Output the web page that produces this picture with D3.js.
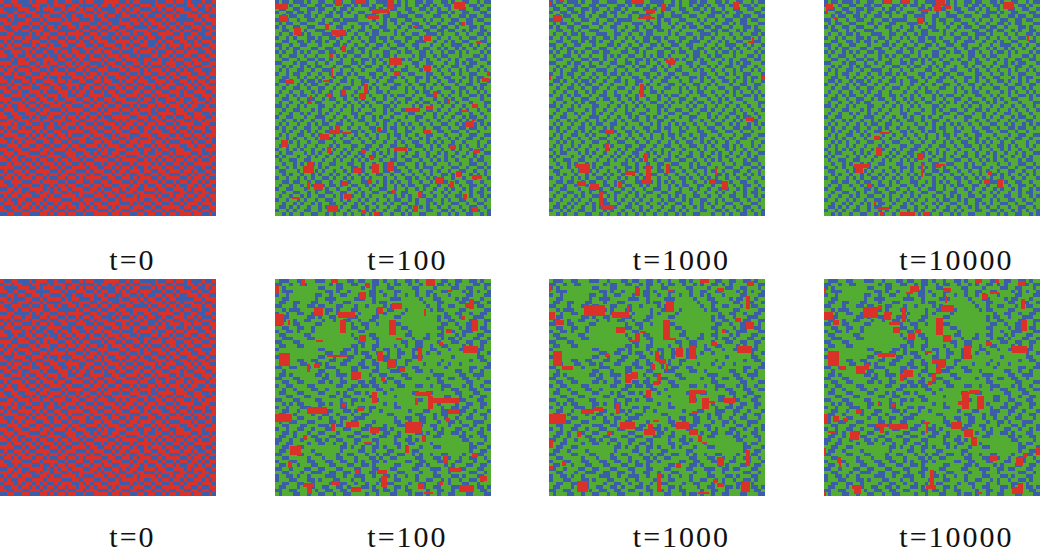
<!DOCTYPE html>
<html><head><meta charset="utf-8">
<script src="https://cdnjs.cloudflare.com/ajax/libs/d3/7.8.5/d3.min.js"></script>
<style>html,body{margin:0;padding:0;background:#fff;overflow:hidden}svg{display:block}</style>
</head><body><svg id="c" width="1040" height="549"></svg>
<script>
// Values are estimates by eye. Texture grids are a coarse 60x60 approximation of a ~100x100 lattice,
// hand typed, not a cell-accurate reading. Red patches are [col,row,w,h] on the 100-cell lattice.
const labels=["t=0","t=100","t=1000","t=10000"];
const categories=["red","blue","green"];
// t=0: 1 = blue, 0 = red
const initialRows=[
"011001110100011011001101001110000110100111101100100101110110",
"100100111001101000110011110100101001011000100011011100101001",
"011110001101000110100101001011110010100111010100100110011010",
"001101100011110001011000110100110101001000111011010001101100",
"110010011001001110110110001001001100110101100100101100010011",
"001011100110100001010011101100111011001010011010011111001000",
"100110001001011110001100011011011000100101000101101000110110",
"011000110110100101100101100100100110011110110010010110001001",
"001101001000110011111010011011001001100001001101001001101100",
"110011110101001100100001100100110100101100110000110110011001",
"000100100110010011011010010011101011010010011011000100101110",
"101011001001101100100101101000110000100101110100110011010001",
"010100111010010110011000110110001101011001101010001001001100",
"100011000101100001110110001001100100100110010011011010110010",
"011000101011011010010011010010011011101000101100100100011001",
"001101100100101101001000101101000100110111001001011001100100",
"111010010011000100110101100010110010001100110110100110010011",
"000110001101010011001010011101001101100101000100011001001100",
"101001110010001100100100100110100010011010111010010100110001",
"010010001001101011011001011000111001000101000101101011001110",
"100101100110010000100110100101000110110100110010010001100100",
"011100011000101101110001001010110001001011001101001100011011",
"001011001011000100101100110010011010010001100010110010100100",
"110100110100110011000011001101000101101100010100011001010011",
"001001000110001001101010010010110010010011011001100100101000",
"100110110001011100010100101101001001100100100110001011000110",
"011000101100100010011001100001100110001011010001101000110001",
"000111010010011011000110010110010001110100101100010110011010",
"101000101101000100110001101001001100001001100101100101000100",
"010110010010110001001110010010110011010110010010001010011011",
"100010001101001110100001100101000100101000101101100100110000",
"011001100010010001011010011010011011000110110000100011001101",
"001100110101100110100100100101100000110001001011011001000110",
"110010001001001000110011001000110101001101100100100110101000",
"000101100110110101000100110110001010010010010011010000110011",
"101001011000100110011010001001100100101100101100101101000100",
"010110000101011001100001100110010011000101000110010010110110",
"100001101010100100101110010001101000111000110001101001001000",
"011100010100011010010000101100100110100110011010000110100101",
"001010100011001001101100110010011001001000100101110001011001",
"110001001100110110010011000101000110010011010010001100100110",
"001100110001001000101000111010110001101100101001100110001000",
"100010001110010111000110010100100110000101100110100001101101",
"010101100001100001100101001011001001110010001001011010010010",
"001001011010011010010010110000110100001101010100100100101100",
"110100100101000101001101001101001011010000101011001011000001",
"000011010010110010110000100110010100101101000100110100110110",
"101100101100001101000111010001101001000100110010001001011001",
"010010010011010010011000101100010010110011001001110010100100",
"100101000100101100100101000011001100101000110100001101001011",
"011000111001000011011001101100100011010010001011010010010100",
"001101000110110100100110010010011000100101100100101100101001",
"110010110000101010010001100101100101001100010011000101000110",
"000100101101001001101100001010010110010011101000110011010011",
"101001000110010110000101110001001001101000010110100100100100",
"010110011000100001110010001100110100001011001001001011001010",
"100010100101011010001101010011000111010100100110110100010001",
"011001001010100100100100101000101000100011011000001001101100",
"001100110001001011011001000111010011001100100101100110010010",
"110011001110010100100110110000100100110010011010010001001101"
];
// top row t>=100: 1 = blue, 0 = green
const sparseRows=[
"101101110100110011100110010011110010100110110011010011001011",
"110010011001101100011010110100100110100101101001101100110100",
"011001100110110010110100001101001100110011010100100110011001",
"100110110100100101101001100110010010011000100111010011000110",
"001011001101001100100010011100110011100110001100100110110011",
"110100100110010011011110000100101100110001010010011001101100",
"010110011000110100110001110010100101001100100100110101100011",
"101001100110001001100100101001100010010110011011001000110100",
"001100101001110000101001100110110100100001100110110010100110",
"010010110100011100110010010110000101001100111010001001001101",
"100101000110100110100101001101101000110010100100100100110010",
"001100110101101001001000101100100110100111001001010011000110",
"110010011000100011010010010011010011001100010010011100101001",
"010101100011001100100101100110001100100101100101001010010010",
"101001010100110110001100101000110010110011010010110101000101",
"010011001001000101010011001010110100001011001011000100011010",
"001100100110110100100100110101001001010010100100101001100110",
"110001011001001001100110100100100110001100110001001010110001",
"001010010101100010011001011001010100100101001010011001100100",
"010100110010011100100100100011001001100010100100100101001010",
"100101100100100101101010001100100110011000110010010100110001",
"001100101001010010010001100101001101000110101001100010101100",
"011010010110100100110100110010011000100100100100110100101001",
"100100101011001001000100100100100110010011001010001001100110",
"001001100100110010011001001010001100101001010001100110010100",
"010010010010100100100010010011010000100101100100010101001010",
"100101011001001100110100101000101011001000110010100100110101",
"001100100110010110010010100100100100110010001001010011000100",
"010010010101100001001001010011001010100101100101001000100011",
"110100101000110010010100101000110100001010010010010010010010",
"001001100010100100100101000100101001100100110100100101001001",
"010010010100101001000110011000100110011001001001001100100100",
"100110001001110010010010100101001000100110001010010010110010",
"001001010010010100101001100100110010000100100100100101001100",
"010100100101011001100100010010100101010010010011001010010101",
"101001001100100101001001001100101100101001001100100110110010",
"001010010101001100100110100101100100110001100110011001001000",
"010100110010100010010010010010010110100100110001000100110011",
"100101001001001100100101001010010010010010100100101001100100",
"001010100100110010011000100100100101001100101010010010001001",
"010100101001000101000110011001001100100110010100110101001010",
"100101010010010010010100110010010010010001010010010100100100",
"010110001010100100101001100101010100100100100101001001010011",
"101000100101001001010010101100100101001100101001010010010100",
"010011001100010010100101010001001100110010010101001000101100",
"001001010010100110001100100100110011000101001000100100110010",
"100101001100101000100110101010100100100101110010011001001101",
"011000101001010010010100100100110110010010010100100110010010",
"001010010010100101001001010011001001001001010011010100101010",
"100100101010011010010100101000100100110100101010010010010001",
"001101100101100100101000110010101010010010010011001001100100",
"010010010010010110100110010100100101011001100100100100110010",
"100110001001101001001001001001100100100101001001010010100101",
"001001100101001100110010100110011001100010010010100100101100",
"010010010100110010100100101000100101010011001001001100100101",
"100100101001001100101001010010010110010100110010100110010010",
"001001010010100110010010100100101001100100101010011001001100",
"011010100100101100100110010010010010010010100100100100110010",
"100101001100100101001001010100100110101000110011010010101001",
"001010010011001010010100101001001001010011000100101001100101"
];
// bottom row t>=100: 1 = blue, 0 = green
const denseRows=[
"011100110001110010001101100110100100110100110011001100110100",
"110010011000000101100110010110010110010010100110101000011011",
"101000000000110001100000100100011000001100001000011001100010",
"001110000000001101001000001101000110000100110011000010101001",
"100100000001100100110001001100100100100100101000100001100011",
"001100000001001110000011100100001110000010001100001011000100",
"011001100011000100011000000101100000000001000110000110011001",
"110001000110110001100010010000101000000000100100110001001100",
"001011100000001101000110000010011000100000010110000110000011",
"100100110010001001100001000010100001000000000001001100100110",
"001100000110100110001110000110000110000000000101100100011100",
"011001001100010010011001001100000000000000000100110000110011",
"110001100001100000000100110010000110000000000011001001100010",
"001100110010000000000110010000000001100000000110000101100110",
"100110100010000000000001100000000000010000000010010011100011",
"011000001100000000000100001100000000110000100110001010001100",
"001110000110000000000010000110000000001001100010110100011001",
"110001100000000000000001100010000001100110000100011001100110",
"011000110000000000000110100110000100100110010011000010100100",
"100000000000110000011010000100110010001100011000100110001100",
"000000000000001100110010110010010011001000100100000000001001",
"110000000000110010001100011000110010001110000000010000001100",
"011000110011000110011000100100100100110000000010000000100110",
"001100011001101000110001100110010100100001000100100100000001",
"110011000100001110000110110010010011001100000001000000110011",
"001000000000110001000110000110001110000110010000001100100100",
"011010000001101001110100001001100001100000001110000110011100",
"110001100000011000100110000100011000110000100100110011001000",
"001100110000110100110001101100100110000000000110000001100011",
"100110000110000001100110110110000011000110010011100010100100",
"001001000011001000001100000011001000000000000010011000110011",
"011000110000110001010011010000100000001100110000001100011000",
"000110001100000110011000001100000100000000000001100100100110",
"110001100001100000100110100110000000000110010001100110001100",
"001010110000110100110100000000100100000000000100001001100110",
"100100011100100000110001101100000110000000000010011011000100",
"001100100110001100011010001001000000010001100011100110010001",
"011001000010011001000100110000011000000110001011000100100110",
"110000110000100100110011100000000100110011001001001001100010",
"010011000110000110100110000100000110010011000100110100011100",
"001100011000111001100100011000100011000110011000100011010001",
"100100110010001100011000110001101000001100001010001100100101",
"001101000100110001000011000100110010000110100110011010001100",
"011001000011000110001100110001100110010000001100000110100110",
"110010010001101001100011000110000100110100000000000011000010",
"100110000100110010010010011010000110011000010000000000101100",
"001100110000000000110100100110100010100010001100000000110001",
"011001000010000000100001100100011000001100000000000000100110",
"110000110001100001001100010010110011001010010011000010001100",
"001100000100010001100010001101001100000110001100100100110010",
"100011000110001100110010100110100000110011000110001100010001",
"011000100011000110001100110100000110000110100001010001100110",
"110010001100110001100011000110001100001100011100110110001100",
"001100010011100110011001001100100011000010001000100000110010",
"100110100100001110010011100100110100100100001100011010001100",
"100011000110100011000100100001000110000100110010100100110100",
"001100110010000100110010010010011000010011000100100011001000",
"011000100110011001101000110100100110100001001100011010001101",
"110011000001001100110011000110110100110000100110010000100110",
"010001100100110010011000010010001100010110100100110001100011"
];
// red patches [col,row,w,h], flat per panel
const redTop100=[[0,2,6,2],[2,7,4,3],[28,0,3,3],[37,0,5,2],[45,4,8,2],[52,0,3,4],[43,7,5,2],[83,1,5,3],[86,10,2,2],[9,13,3,3],[23,11,2,3],[26,14,7,2],[28,16,2,1],[69,16,3,3],[64,12,2,1],[93,19,3,1],[31,21,2,3],[25,25,2,2],[53,27,6,3],[55,33,3,2],[69,30,3,3],[26,31,1,5],[22,37,3,1],[5,37,4,2],[96,36,3,2],[98,33,1,2],[41,39,2,4],[31,41,2,3],[39,43,3,3],[24,43,2,2],[16,44,1,2],[15,47,2,1],[73,42,2,3],[80,46,1,2],[91,48,3,2],[60,50,7,2],[70,49,3,2],[86,51,3,1],[88,56,4,3],[91,55,2,1],[25,60,5,2],[28,58,2,2],[31,61,4,1],[47,59,2,2],[21,62,4,3],[3,65,3,3],[69,60,3,2],[81,67,3,2],[92,69,3,2],[24,68,2,3],[40,69,2,2],[55,68,6,2],[44,72,2,2],[45,76,3,4],[52,75,3,4],[13,77,5,3],[15,75,3,2],[36,78,4,2],[43,83,2,2],[31,84,3,2],[15,84,1,4],[18,85,4,3],[74,82,4,3],[81,84,2,3],[84,79,2,3],[91,81,5,2],[54,88,2,2],[66,89,2,2],[87,90,2,2],[32,90,3,2],[8,91,3,1],[24,95,5,3],[40,97,2,2],[46,98,2,2],[64,95,2,3],[91,96,3,2]];
const redTop1000=[[0,1,1,2],[5,0,2,1],[2,7,4,3],[38,0,6,2],[45,4,4,2],[52,2,2,3],[41,8,8,1],[44,7,3,2],[85,1,3,3],[92,19,3,1],[94,17,1,3],[54,28,5,1],[56,27,2,3],[42,39,2,6],[98,35,2,2],[0,35,1,2],[91,54,4,2],[26,60,4,2],[26,66,2,4],[44,71,2,4],[12,76,7,2],[14,78,5,2],[45,77,2,8],[35,79,5,2],[54,76,2,4],[77,78,1,3],[74,83,3,2],[80,84,3,4],[13,84,4,2],[19,85,4,3],[32,84,2,3],[23,89,2,6],[24,95,6,2],[43,83,2,2]];
const redTop10000=[[1,2,3,2],[1,4,1,2],[4,8,2,1],[28,0,3,2],[36,0,4,2],[52,0,4,3],[51,3,3,2],[45,4,4,1],[56,3,3,1],[43,8,3,3],[83,1,5,3],[94,16,1,3],[26,61,4,1],[23,63,3,2],[24,68,3,4],[43,71,3,3],[14,76,7,2],[15,78,3,2],[45,76,1,6],[52,76,4,1],[52,77,2,1],[76,79,2,2],[74,83,3,2],[80,83,3,4],[20,85,2,2],[23,93,1,2],[25,96,5,1],[26,98,2,2],[35,98,7,2],[46,98,3,2]];
const redBot100=[[0,3,2,4],[12,0,2,3],[26,0,3,2],[39,6,3,3],[42,2,2,2],[70,0,4,3],[80,5,2,1],[88,11,3,2],[90,9,2,5],[18,13,4,4],[0,16,4,5],[6,19,1,2],[29,15,8,3],[30,19,3,6],[47,13,3,3],[54,11,5,3],[53,19,3,7],[56,27,3,1],[69,14,1,3],[86,17,2,2],[91,19,3,5],[79,23,3,2],[39,26,3,3],[19,28,3,1],[76,29,2,2],[87,31,7,3],[66,32,2,6],[24,35,10,1],[2,34,5,6],[15,39,1,4],[18,39,3,2],[47,33,3,5],[52,37,4,4],[58,41,2,2],[35,43,5,3],[45,52,2,5],[49,45,2,2],[65,52,7,2],[71,54,2,6],[73,55,12,2],[65,55,1,3],[80,60,5,2],[79,64,2,2],[0,62,8,4],[15,59,9,3],[31,57,2,2],[38,59,3,2],[33,66,6,2],[26,67,2,3],[44,68,4,3],[60,66,8,5],[68,72,2,3],[13,72,2,2],[7,77,5,4],[41,75,4,1],[60,77,2,3],[78,81,2,4],[91,80,3,2],[6,84,2,3],[81,87,5,2],[47,88,5,2],[37,88,2,2],[95,91,3,2],[49,91,3,5],[13,94,5,2],[15,96,2,3],[26,93,4,2],[35,96,5,2],[66,94,3,3],[76,93,2,2],[85,95,7,3],[69,98,4,1]];
const redBot1000=[[0,3,1,3],[70,0,4,2],[92,1,3,2],[78,4,3,2],[40,4,2,4],[55,5,3,1],[54,10,4,5],[91,8,2,6],[16,12,10,5],[0,15,3,4],[3,19,4,2],[29,15,8,3],[36,12,1,4],[31,22,4,3],[53,19,3,9],[56,27,3,1],[40,25,2,3],[37,28,5,1],[42,24,3,1],[91,20,4,3],[80,23,2,2],[86,18,3,2],[75,29,3,2],[87,31,7,3],[65,31,3,6],[59,32,3,4],[26,34,2,2],[2,33,4,7],[6,40,5,2],[49,33,2,5],[47,39,2,3],[51,37,3,2],[54,39,1,4],[35,44,3,4],[38,43,3,3],[48,47,3,2],[50,44,2,3],[45,51,2,4],[65,51,7,2],[65,53,3,4],[66,61,3,1],[71,55,3,5],[74,56,3,1],[81,55,5,2],[15,60,6,2],[21,59,4,2],[31,57,2,5],[0,62,8,5],[33,66,7,3],[46,67,2,5],[48,65,3,1],[44,69,5,3],[59,66,6,3],[65,69,4,3],[69,72,2,3],[71,75,2,1],[13,70,2,3],[0,74,2,4],[27,70,2,2],[78,82,3,4],[91,79,2,7],[6,84,2,2],[0,86,2,2],[59,85,2,2],[50,90,2,8],[13,93,5,5],[76,92,2,2],[78,94,3,2],[89,93,4,5],[69,98,5,1]];
const redBot10000=[[0,4,1,3],[70,0,3,2],[79,0,2,2],[90,1,3,2],[73,7,3,2],[77,6,4,1],[40,3,4,3],[38,6,3,1],[55,4,4,2],[56,8,1,3],[54,12,6,3],[91,9,2,5],[18,13,7,5],[25,12,2,2],[0,15,4,4],[4,19,3,2],[28,15,3,4],[36,13,2,7],[30,20,5,1],[32,22,3,3],[52,18,3,8],[55,26,4,3],[91,19,3,5],[39,25,3,3],[42,23,3,2],[75,29,3,2],[87,31,7,3],[65,31,3,6],[25,34,8,2],[2,33,5,7],[7,40,3,2],[15,40,4,4],[19,39,2,3],[47,33,3,1],[50,37,3,2],[53,37,3,4],[52,41,2,3],[35,44,2,3],[37,42,4,3],[48,47,2,2],[50,44,2,3],[64,52,3,8],[67,51,5,2],[62,56,4,2],[71,54,3,6],[15,60,2,2],[25,56,1,2],[31,57,2,2],[0,62,2,5],[4,63,3,3],[9,64,2,2],[24,67,5,1],[26,68,2,3],[30,67,9,2],[46,66,3,1],[47,67,1,4],[59,66,5,3],[65,69,4,4],[68,73,3,4],[12,70,4,4],[2,70,3,1],[0,78,1,3],[77,81,3,3],[89,82,3,4],[92,80,2,2],[98,78,2,3],[6,82,2,3],[7,85,1,2],[49,88,2,9],[47,95,5,2],[13,95,4,2],[14,97,3,2],[0,98,1,2],[87,96,5,3],[90,94,2,2],[71,98,2,1]];

const colour=d3.scaleOrdinal(categories,["#DA3229","#3C5DAA","#54AD33"]);
const columnX=d3.scaleOrdinal([0,1,2,3],[0,275,549,824]);
const rowY=d3.scaleOrdinal([0,1],[0,279]);
const rowH=[216,217], labelY=[270,547];
const panels=[
 {col:0,row:0,grid:initialRows,other:"red",patches:[]},
 {col:1,row:0,grid:sparseRows,other:"green",patches:redTop100},
 {col:2,row:0,grid:sparseRows,other:"green",patches:redTop1000},
 {col:3,row:0,grid:sparseRows,other:"green",patches:redTop10000},
 {col:0,row:1,grid:initialRows,other:"red",patches:[]},
 {col:1,row:1,grid:denseRows,other:"green",patches:redBot100},
 {col:2,row:1,grid:denseRows,other:"green",patches:redBot1000},
 {col:3,row:1,grid:denseRows,other:"green",patches:redBot10000}
];
const svg=d3.select("#c");
panels.forEach(p=>{
  const size=216,h=rowH[p.row];
  const g=svg.append("g").attr("transform",`translate(${columnX(p.col)},${rowY(p.row)})`).attr("shape-rendering","crispEdges");
  const x=d3.scaleBand(d3.range(60),[0,size]), y=d3.scaleBand(d3.range(60),[0,h]);
  const cells=p.grid.flatMap((s,r)=>Array.from(s,(c,i)=>({r,i,v:c==="1"?"blue":p.other})));
  g.selectAll("rect.cell").data(cells).join("rect").attr("class","cell")
    .attr("x",d=>x(d.i)).attr("y",d=>y(d.r)).attr("width",x.bandwidth()+.3).attr("height",y.bandwidth()+.3)
    .attr("fill",d=>colour(d.v));
  const px=d3.scaleLinear([0,100],[0,size]), py=d3.scaleLinear([0,100],[0,h]);
  g.selectAll("rect.red").data(p.patches).join("rect").attr("class","red")
    .attr("x",d=>px(d[0])).attr("y",d=>py(d[1])).attr("width",d=>px(d[2])).attr("height",d=>py(d[3]))
    .attr("fill",colour("red"));
  svg.append("text").attr("x",columnX(p.col)+size/2+24.5).attr("y",labelY[p.row])
    .attr("text-anchor","middle").attr("font-family","'Liberation Serif',serif").attr("font-size",30)
    .attr("letter-spacing",2).attr("fill","#111").text(labels[p.col]);
});
</script></body></html>
